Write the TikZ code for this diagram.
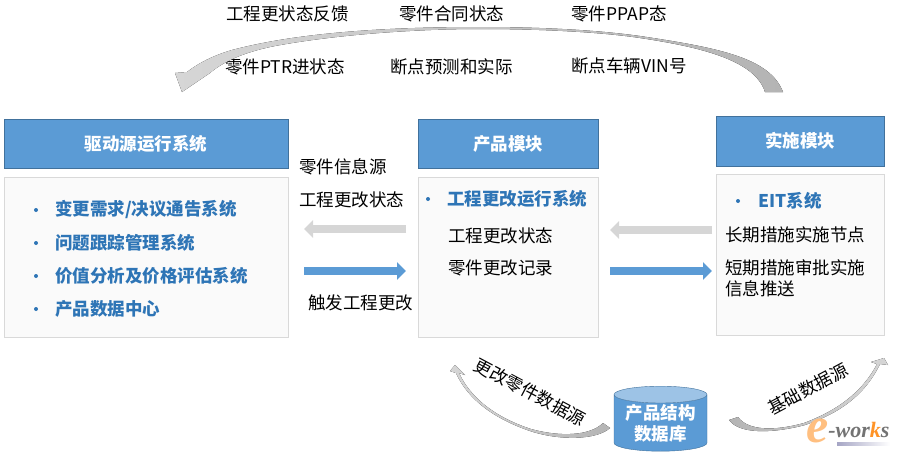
\documentclass[tikz,border=0pt]{standalone}
\usepackage{fontspec}
\setmainfont{Noto Sans CJK SC}
\newfontfamily\logofont{Liberation Serif}
\usetikzlibrary{arrows.meta}
\usetikzlibrary{shapes.geometric}
\definecolor{headblue}{HTML}{5B9BD5}
\definecolor{headline}{HTML}{41719C}
\definecolor{itemblue}{HTML}{2E75B6}
\definecolor{bodyfill}{HTML}{FAFAFA}
\definecolor{bodyline}{HTML}{D9D9D9}
\definecolor{flowgrey}{HTML}{D6D6D6}
\definecolor{tailgrey}{HTML}{B4B4B4}
\tikzset{
    headbox/.style={draw=headline,fill=headblue,text=white,font=\fontsize{17.5}{21}\selectfont\bfseries,inner sep=0pt},
    bodybox/.style={draw=bodyline,fill=bodyfill,line width=0.8pt},
    txt/.style={anchor=west,inner sep=0pt,text=black,font=\fontsize{17.5}{21}\selectfont},
    itemtxt/.style={txt,text=itemblue,font=\fontsize{17.5}{21}\selectfont\bfseries},
    itemdot/.style={shape=circle,fill=itemblue,inner sep=0pt,minimum size=4pt},
    greyflow/.style={line width=8.5pt,flowgrey,-{Triangle[length=9pt,width=17pt]}},
    blueflow/.style={line width=8.5pt,headblue,-{Triangle[length=9pt,width=17pt]}},
}
\begin{document}
\begin{tikzpicture}[x=1pt,y=-1pt]
    \useasboundingbox (0,0) rectangle (902,455);

    % module headers
    \node[headbox,minimum width=284pt,minimum height=49pt] (driver) at (146,143.5) {驱动源运行系统};
    \node[headbox,minimum width=180pt,minimum height=49pt] (product) at (508,143.5) {产品模块};
    \node[headbox,minimum width=168pt,minimum height=50pt] (impl) at (800,141) {实施模块};

    % module bodies
    \node[bodybox,minimum width=284pt,minimum height=160pt] (driverbody) at (146,257) {};
    \node[bodybox,minimum width=180pt,minimum height=160pt] (productbody) at (508,257) {};
    \node[bodybox,minimum width=168pt,minimum height=161pt] (implbody) at (800,254.5) {};

    % driver items
    \node[itemdot] (d1) at (36,210) {};
    \node[itemdot] (d2) at (36,243) {};
    \node[itemdot] (d3) at (36,276) {};
    \node[itemdot] (d4) at (36,309) {};
    \node[itemtxt] (demand) at (55,210) {变更需求/决议通告系统};
    \node[itemtxt] (issue) at (55,243) {问题跟踪管理系统};
    \node[itemtxt] (value) at (55,276) {价值分析及价格评估系统};
    \node[itemtxt] (center) at (55,309) {产品数据中心};

    % product items
    \node[itemdot] (p1) at (428,199) {};
    \node[itemtxt] (ecrun) at (447,199) {工程更改运行系统};
    \node[txt] (ecstate) at (448,236) {工程更改状态};
    \node[txt] (partlog) at (448,268) {零件更改记录};

    % implementation items
    \node[itemdot] (i1) at (738,201) {};
    \node[itemtxt] (eit) at (758,201) {EIT系统};
    \node[txt] (longterm) at (725,235) {长期措施实施节点};
    \node[txt,align=left] (shortterm) at (725,278.5) {短期措施审批实施\\信息推送};

    % labels between the modules
    \node[txt] (partsrc) at (299,167) {零件信息源};
    \node[txt] (midstate) at (299,200) {工程更改状态};
    \node[txt] (trigger) at (308,303) {触发工程更改};

    % labels above the long arc
    \node[txt] (fb) at (226,14) {工程更状态反馈};
    \node[txt] (contract) at (399,14) {零件合同状态};
    \node[txt] (ppap) at (571,14) {零件PPAP态};
    \node[txt] (ptr) at (225,67) {零件PTR进状态};
    \node[txt] (breakpt) at (390,67) {断点预测和实际};
    \node[txt] (vin) at (571,66) {断点车辆VIN号};

    % database
    \node[shape=cylinder,shape border rotate=90,aspect=0.24,draw=headline,
          cylinder uses custom fill,cylinder body fill=headblue,cylinder end fill=headblue!60,
          minimum width=93pt,minimum height=65pt,inner sep=0pt,align=center,text=white,
          font=\fontsize{17.5}{21}\selectfont\bfseries] (db) at (660.5,423) {产品结构\\数据库};

    % straight flows
    \coordinate (g1s) at (406,229);
    \coordinate (g1e) at (304,229);
    \coordinate (b1s) at (304,271);
    \coordinate (b1e) at (406,271);
    \coordinate (g2s) at (712,230);
    \coordinate (g2e) at (610,230);
    \coordinate (b2s) at (610,271);
    \coordinate (b2e) at (712,271);
    \draw[greyflow] (g1s) -- (g1e);
    \draw[blueflow] (b1s) -- (b1e);
    \draw[greyflow] (g2s) -- (g2e);
    \draw[blueflow] (b2s) -- (b2e);

    % curved flows
    \fill[left color=flowgrey,right color=tailgrey] (783,92) .. controls (770,58) and (720,48) .. (640,36)
        .. controls (590,29) and (530,27) .. (480,27) .. controls (390,27) and (300,32) .. (232,50)
        .. controls (215,55) and (200,62) .. (187,72) -- (175,73) -- (182,92) -- (210,73)
        .. controls (222,63) and (240,53) .. (275,46) .. controls (340,34) and (420,29) .. (480,29)
        .. controls (540,29) and (600,32) .. (640,38) .. controls (700,47) and (755,60) .. (765,92) -- cycle;
    \fill[left color=flowgrey,right color=tailgrey] (610,428) .. controls (597,440) and (560,441) .. (530,431)
        .. controls (495,419) and (468,400) .. (456,373) -- (450,371) -- (455,365) -- (465,375) -- (459,373)
        .. controls (471,399) and (497,418) .. (531,429) .. controls (560,437) and (590,436) .. (603,423) -- cycle;
    \fill[left color=tailgrey,right color=flowgrey] (729,420) .. controls (740,435) and (775,433) .. (805,425)
        .. controls (840,413) and (865,395) .. (880,364) -- (888,365) -- (884,358) -- (871,362) -- (877,364)
        .. controls (862,393) and (836,411) .. (804,423) .. controls (775,431) and (748,431) .. (738,417) -- cycle;

    % labels along the short arcs
    \node[txt,anchor=center,rotate=-28] (changed) at (530,392) {更改零件数据源};
    \node[txt,anchor=center,rotate=28] (basic) at (808,389) {基础数据源};

    % logo
    \shade[left color=blue!35!black!35,right color=white] (837,442) rectangle (890,445);
    \node[inner sep=0pt,anchor=base west,font=\logofont\bfseries\itshape\fontsize{22}{24}\selectfont,text=black!55] (logo) at (806,437)
        {\textcolor{orange!50}{\raisebox{-5pt}{\fontsize{50}{50}\selectfont e}}-wor\textcolor{orange!85}{k}s};
\end{tikzpicture}
\end{document}
